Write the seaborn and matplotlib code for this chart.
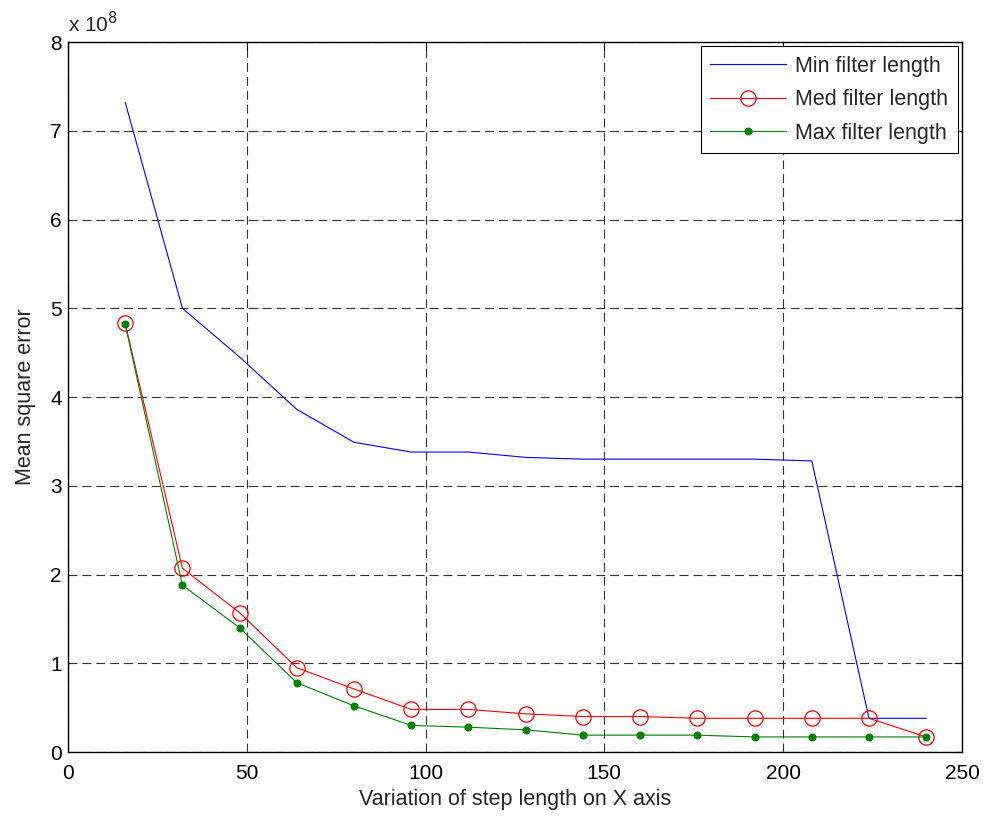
import numpy as np
import pandas as pd
import matplotlib
matplotlib.use("Agg")
import matplotlib.pyplot as plt
import seaborn as sns
from matplotlib.ticker import FuncFormatter, MultipleLocator

step = [16, 32, 48, 64, 80, 96, 112, 128, 144, 160, 176, 192, 208, 224, 240]
min_len = [7.32e8, 5.00e8, 4.45e8, 3.86e8, 3.49e8, 3.38e8, 3.38e8, 3.32e8, 3.30e8,
           3.30e8, 3.30e8, 3.30e8, 3.28e8, 0.38e8, 0.38e8]
med_len = [4.83e8, 2.07e8, 1.57e8, 0.95e8, 0.71e8, 0.48e8, 0.48e8, 0.43e8, 0.40e8,
           0.40e8, 0.38e8, 0.38e8, 0.38e8, 0.38e8, 0.17e8]
max_len = [4.82e8, 1.88e8, 1.40e8, 0.78e8, 0.52e8, 0.30e8, 0.28e8, 0.25e8, 0.19e8,
           0.19e8, 0.19e8, 0.17e8, 0.17e8, 0.17e8, 0.17e8]
labels = ["Min filter length", "Med filter length", "Max filter length"]

sns.set_style("white")
plt.rcParams['font.family'] = ['Liberation Sans', 'DejaVu Sans']
plt.rcParams['font.size'] = 15

fig = plt.figure(figsize=(9.84, 8.16), dpi=100)
ax = fig.add_axes([0.0691, 0.0784, 0.9085, 0.8701])

df = pd.DataFrame({"step": step, "min": min_len, "med": med_len, "max": max_len})
sns.lineplot(data=df, x="step", y="min", ax=ax, color=(0, 0, 1), lw=0.8,
             label=labels[0])
sns.lineplot(data=df, x="step", y="med", ax=ax, color=(1, 0, 0), lw=0.8,
             marker="o", markersize=11, markerfacecolor="none",
             markeredgecolor=(1, 0, 0), markeredgewidth=0.9, label=labels[1])
sns.lineplot(data=df, x="step", y="max", ax=ax, color=(0, 0.5, 0), lw=0.8,
             marker="o", markersize=5, markerfacecolor=(0, 0.5, 0),
             markeredgecolor=(0, 0.5, 0), label=labels[2])

ax.set_xlim(0, 250)
ax.set_ylim(0, 8e8)
ax.xaxis.set_major_locator(MultipleLocator(50))
ax.yaxis.set_major_locator(MultipleLocator(1e8))
ax.yaxis.set_major_formatter(FuncFormatter(lambda v, p: f"{v/1e8:g}"))
ax.grid(True, color="#333333", linestyle=(0, (8, 4.5)), linewidth=0.8)
ax.set_axisbelow(True)
for s in ax.spines.values():
    s.set_color("black")
    s.set_linewidth(1.0)
ax.tick_params(direction="in", length=6, width=0.8, top=True, right=True,
               labelsize=15, colors="black")
ax.tick_params(axis="x", pad=8.5)
ax.tick_params(axis="y", pad=4.5)
ax.set_xlabel("Variation of step length on X axis", fontsize=15.5, labelpad=4.5)
ax.set_ylabel("Mean square error", fontsize=15.5, labelpad=10)
ax.text(0.0, 1.008, r"x 10$^8$", transform=ax.transAxes, fontsize=15,
        ha="left", va="bottom")

leg = ax.legend(loc="upper right", fontsize=15.5, frameon=True, fancybox=False,
                edgecolor="black", borderaxespad=0.18, handlelength=3.5,
                handletextpad=0.45, labelspacing=0.58, borderpad=0.45)
leg.get_frame().set_linewidth(0.8)
leg.get_frame().set_alpha(1)

fig.savefig("out.png", dpi=100)
